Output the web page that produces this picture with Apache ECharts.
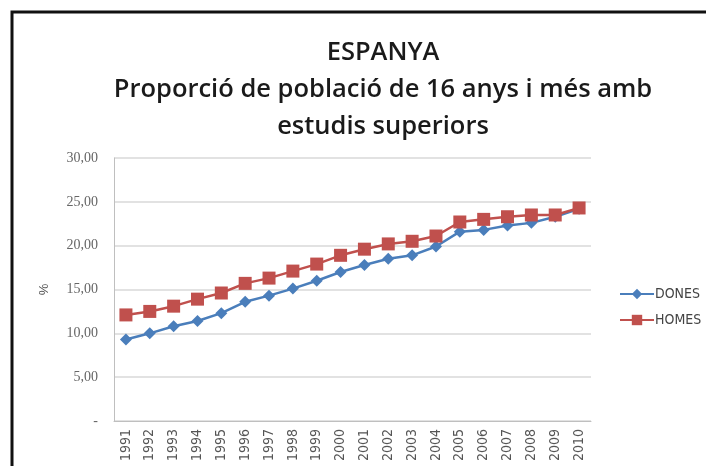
<!DOCTYPE html>
<html>
<head>
<meta charset="utf-8">
<script src="https://cdn.jsdelivr.net/npm/echarts@6/dist/echarts.min.js"></script>
<style>
html, body { margin: 0; padding: 0; background: #fff; }
#chart { width: 706px; height: 466px; }
</style>
</head>
<body>
<div id="chart"></div>
<script>
// dades llegides del gràfic
var years = ['1991', '1992', '1993', '1994', '1995', '1996', '1997', '1998', '1999', '2000',
	'2001', '2002', '2003', '2004', '2005', '2006', '2007', '2008', '2009', '2010'];
var dones = [9.3, 10.0, 10.8, 11.4, 12.3, 13.6, 14.3, 15.1, 16.0, 17.0,
	17.8, 18.5, 18.9, 19.9, 21.6, 21.8, 22.3, 22.6, 23.3, 24.2];
var homes = [12.1, 12.5, 13.1, 13.9, 14.6, 15.7, 16.3, 17.1, 17.9, 18.9,
	19.6, 20.2, 20.5, 21.1, 22.7, 23.0, 23.3, 23.5, 23.5, 24.3];
var titleLines = ['ESPANYA', 'Proporció de població de 16 anys i més amb', 'estudis superiors'];

var chart = echarts.init(document.getElementById('chart'), null, { renderer: 'canvas' });

var option = {
	backgroundColor: '#fff',
	animation: false,
	title: {
		text: titleLines.join('\n'),
		left: 378,
		top: 29,
		textAlign: 'center',
		textStyle: {
			fontFamily: 'Open Sans',
			fontWeight: 600,
			fontSize: 25.5,
			lineHeight: 37,
			color: '#1a1a1a'
		}
	},
	graphic: [{
		type: 'rect',
		shape: { x: 12, y: 12, width: 700, height: 470 },
		style: { fill: 'none', stroke: '#111', lineWidth: 3 },
		silent: true
	}],
	legend: {
		orient: 'vertical',
		left: 614,
		top: 282,
		itemGap: 12,
		itemWidth: 34,
		itemHeight: 13,
		textStyle: {
			fontFamily: 'Liberation Sans Narrow, DejaVu Sans Condensed, sans-serif',
			fontSize: 14,
			color: '#444',
			padding: [0, 0, 0, -4]
		},
		data: ['DONES', 'HOMES']
	},
	grid: {
		left: 114,
		right: 115,
		top: 158,
		bottom: 45
	},
	xAxis: {
		type: 'category',
		data: years,
		boundaryGap: true,
		axisLine: { lineStyle: { color: '#bfbfbf', width: 1 } },
		axisTick: { show: false },
		axisLabel: {
			rotate: 90,
			interval: 0,
			margin: 8,
			fontFamily: 'Liberation Sans Narrow, DejaVu Sans Condensed, sans-serif',
			fontSize: 14,
			color: '#555'
		}
	},
	yAxis: {
		type: 'value',
		min: 0,
		max: 30,
		interval: 5,
		name: '%',
		nameLocation: 'middle',
		nameRotate: 90,
		nameGap: 63,
		nameTextStyle: { fontSize: 13, color: '#555' },
		axisLine: { show: true, lineStyle: { color: '#bfbfbf', width: 1 } },
		axisTick: { show: false },
		splitLine: { lineStyle: { color: '#d9d9d9', width: 1.5 } },
		axisLabel: {
			margin: 16,
			fontFamily: 'Liberation Serif, serif',
			fontSize: 14,
			color: '#666',
			formatter: function (v) {
				return v === 0 ? '-' : v.toFixed(2).replace('.', ',');
			}
		}
	},
	series: [
		{
			name: 'DONES',
			type: 'line',
			data: dones,
			symbol: 'diamond',
			symbolSize: 12,
			color: '#4a7ebb',
			lineStyle: { width: 2.5, color: '#4a7ebb' },
			itemStyle: { color: '#4a7ebb' }
		},
		{
			name: 'HOMES',
			type: 'line',
			data: homes,
			symbol: 'rect',
			symbolSize: 13,
			color: '#c0504d',
			lineStyle: { width: 2.5, color: '#c0504d' },
			itemStyle: { color: '#c0504d' }
		}
	]
};

chart.setOption(option);
</script>
</body>
</html>
